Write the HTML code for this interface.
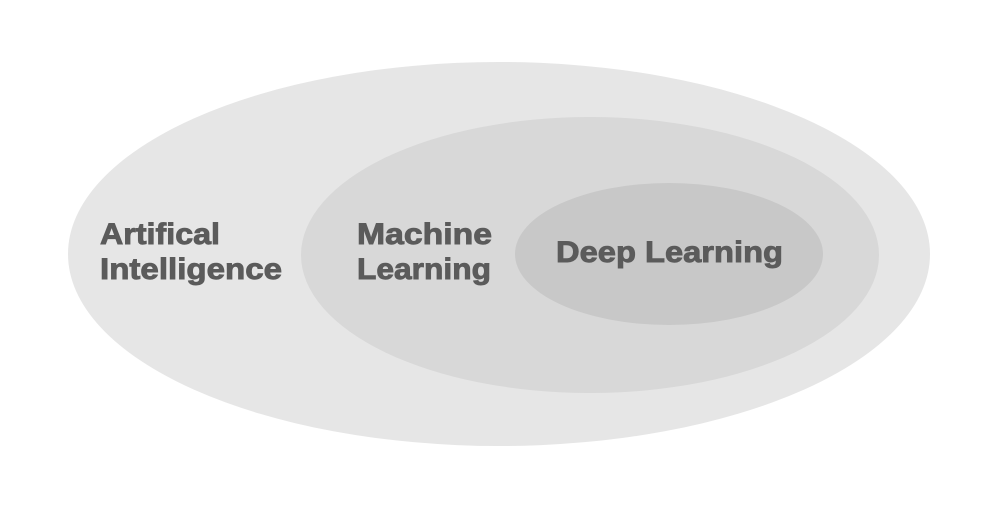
<!DOCTYPE html>
<html><head><style>html,body{margin:0;padding:0;background:#fff}</style></head>
<body>
<svg width="1000" height="510" xmlns="http://www.w3.org/2000/svg">
<rect width="1000" height="510" fill="#fff"/>
<ellipse cx="499" cy="254" rx="431" ry="192" fill="#e6e6e6"/>
<ellipse cx="590" cy="255" rx="289" ry="138" fill="#d8d8d8"/>
<ellipse cx="669" cy="254" rx="154" ry="71" fill="#c8c8c8"/>
<g font-family="Liberation Sans, sans-serif" font-weight="bold" font-size="30" fill="#5b5b5b" stroke="#5b5b5b" stroke-width="0.9">
<text x="100" y="244" textLength="120" lengthAdjust="spacingAndGlyphs">Artifical</text>
<text x="100" y="279" textLength="182" lengthAdjust="spacingAndGlyphs">Intelligence</text>
<text x="357" y="244" textLength="135" lengthAdjust="spacingAndGlyphs">Machine</text>
<text x="357" y="279" textLength="134" lengthAdjust="spacingAndGlyphs">Learning</text>
<text x="556" y="262" textLength="227" lengthAdjust="spacingAndGlyphs">Deep Learning</text>
</g>
</svg>
</body></html>
